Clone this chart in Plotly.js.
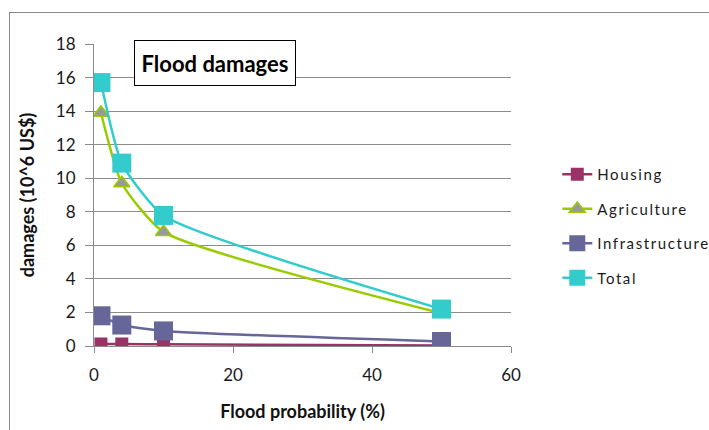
<!DOCTYPE html>
<html>
<head>
<meta charset="utf-8">
<script src="https://cdn.plot.ly/plotly-3.0.1.min.js"></script>
<style>
  html, body { margin: 0; padding: 0; background: #fff; }
  #wrap { position: relative; width: 709px; height: 430px; overflow: hidden; }
  #chart { width: 709px; height: 430px; }
  #frame { position: absolute; left: 9px; top: 12px; right: -2px; bottom: -2px;
           border-left: 1.5px solid #8a8a8a; border-top: 1.5px solid #8a8a8a; pointer-events: none; }
  .legendtext { letter-spacing: 1.6px; }
</style>
</head>
<body>
<div id="wrap">
  <div id="chart"></div>
  <div id="frame"></div>
</div>
<script>
// Flood probability (%) and damages per sector (10^6 US$)
const probability = [1, 4, 10, 50];
const housing = [0.12, 0.12, 0.1, 0.03];
const agriculture = [13.9, 9.7, 6.8, 1.95];
const infrastructure = [1.8, 1.25, 0.9, 0.27];
const total = [15.7, 10.9, 7.78, 2.2];

const seriesNames = ['Housing', 'Agriculture', 'Infrastructure', 'Total'];
const FONT = 'Lato, "Noto Sans", sans-serif';

function series(name, y, lineColor, marker, group) {
  return {
    x: probability, y: y, name: name, type: 'scatter', mode: 'lines+markers',
    line: { color: lineColor, width: 2.5, shape: 'spline', smoothing: 0.55 },
    marker: marker, legendgroup: group
  };
}

const traces = [
  series(seriesNames[0], housing, '#993366',
    { symbol: 'square', size: 13, color: '#993366' }, 'g1'),
  series(seriesNames[1], agriculture, '#99cc00',
    { symbol: 'triangle-up', size: 14, color: '#999999', line: { color: '#99cc00', width: 1.5 } }, 'g2'),
  series(seriesNames[2], infrastructure, '#666699',
    { symbol: 'square', size: 19, color: '#666699' }, 'g3'),
  series(seriesNames[3], total, '#33cccc',
    { symbol: 'square', size: 19, color: '#33cccc' }, 'g4')
];

const layout = {
  width: 709, height: 430,
  margin: { l: 94, r: 198, t: 44, b: 84, autoexpand: false },
  paper_bgcolor: '#fff', plot_bgcolor: '#fff',
  font: { family: FONT, color: '#1a1a1a', size: 17 },
  showlegend: true,
  legend: {
    x: 1.111, xref: 'paper', xanchor: 'left', y: 0.397, yanchor: 'middle',
    traceorder: 'grouped', tracegroupgap: 12,
    font: { family: FONT, size: 15, color: '#1a1a1a' },
    itemsizing: 'trace'
  },
  xaxis: {
    range: [0, 60], dtick: 20, tick0: 0,
    showgrid: false, zeroline: false,
    showline: true, linecolor: '#8a8a8a', linewidth: 1,
    ticks: 'outside', ticklen: 6, tickcolor: '#8a8a8a', ticklabelstandoff: 8,
    tickfont: { family: FONT, size: 17, color: '#1a1a1a' },
    title: { text: 'Flood probability (%)', standoff: 20,
             font: { family: FONT, size: 18, color: '#111', weight: 'bold' } }
  },
  yaxis: {
    range: [0, 18], dtick: 2, tick0: 0,
    showgrid: true, gridcolor: '#8c8c8c', gridwidth: 1, zeroline: false,
    showline: true, linecolor: '#8a8a8a', linewidth: 1,
    ticks: 'outside', ticklen: 8, tickcolor: '#8a8a8a', ticklabelstandoff: 6,
    tickfont: { family: FONT, size: 17, color: '#1a1a1a' },
    title: { text: 'damages (10^6 US$)', standoff: 16,
             font: { family: FONT, size: 18, color: '#111', weight: 'bold' } }
  },
  annotations: [{
    xref: 'paper', yref: 'paper', x: 0.291, y: 0.937,
    xanchor: 'center', yanchor: 'middle', showarrow: false,
    text: '<b>Flood damages</b>',
    font: { family: FONT, size: 22, color: '#000' },
    bgcolor: '#fff', bordercolor: '#000', borderwidth: 1,
    width: 152, height: 36, borderpad: 4
  }]
};

Plotly.newPlot('chart', traces, layout, { displayModeBar: false, staticPlot: true });
</script>
</body>
</html>
